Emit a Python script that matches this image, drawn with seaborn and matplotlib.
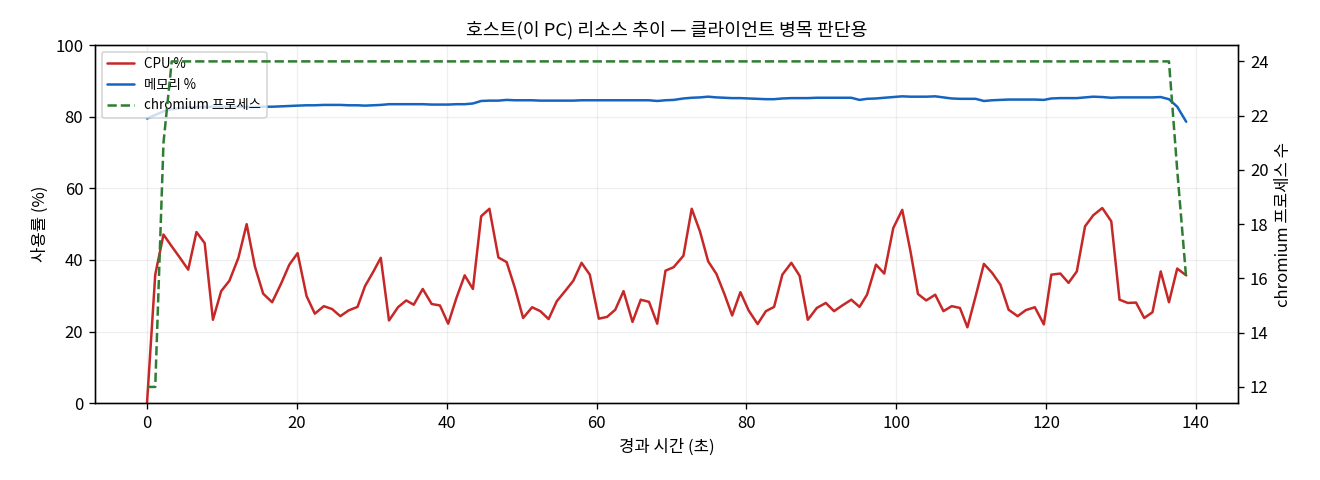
import matplotlib
matplotlib.use("Agg")
import pandas as pd
import matplotlib.pyplot as plt
import seaborn as sns

sns.set_style("ticks", rc={"axes.edgecolor": "black", "xtick.color": "black",
                           "ytick.color": "black", "text.color": "black",
                           "axes.labelcolor": "black"})
plt.rcParams['font.family'] = ['Noto Sans CJK KR', 'DejaVu Sans']
plt.rcParams['axes.unicode_minus'] = False

# 경과 시간 (초)
elapsed = [0.0, 1.1, 2.2, 3.3, 4.4, 5.5, 6.6, 7.7, 8.8, 9.9,
           11.0, 12.2, 13.3, 14.4, 15.5, 16.7, 17.9, 19.0, 20.1, 21.3,
           22.4, 23.6, 24.7, 25.8, 26.9, 28.1, 29.1, 30.2, 31.2, 32.3,
           33.5, 34.6, 35.6, 36.8, 38.0, 39.1, 40.2, 41.3, 42.4, 43.5,
           44.6, 45.7, 46.9, 48.0, 49.1, 50.2, 51.4, 52.5, 53.6, 54.7,
           55.8, 56.9, 58.0, 59.1, 60.3, 61.4, 62.5, 63.6, 64.8, 65.9,
           67.0, 68.1, 69.2, 70.3, 71.6, 72.7, 73.8, 74.9, 76.0, 77.1,
           78.1, 79.2, 80.3, 81.5, 82.6, 83.7, 84.8, 86.0, 87.1, 88.2,
           89.4, 90.6, 91.7, 92.8, 94.0, 95.1, 96.1, 97.3, 98.4, 99.6,
           100.8, 101.9, 102.9, 104.0, 105.2, 106.3, 107.4, 108.5, 109.5, 110.6,
           111.7, 112.8, 113.9, 115.0, 116.2, 117.3, 118.5, 119.7, 120.7, 121.9,
           123.0, 124.1, 125.2, 126.3, 127.5, 128.7, 129.8, 130.9, 132.0, 133.1,
           134.2, 135.3, 136.4, 137.5, 138.7]

cpu = [0.0, 35.9, 47.1, 43.8, 40.6, 37.3, 47.8, 44.7, 23.3, 31.3,
       34.2, 40.6, 50.0, 38.2, 30.6, 28.2, 33.4, 38.7, 41.9, 29.9,
       25.0, 27.1, 26.3, 24.3, 25.9, 26.9, 32.7, 36.7, 40.6, 23.1,
       26.8, 28.7, 27.5, 31.9, 27.7, 27.3, 22.2, 29.4, 35.7, 31.9,
       52.2, 54.3, 40.7, 39.4, 32.2, 23.8, 26.8, 25.7, 23.5, 28.5,
       31.3, 34.2, 39.2, 35.9, 23.6, 24.1, 26.1, 31.3, 22.7, 28.9,
       28.3, 22.2, 37.0, 38.0, 41.2, 54.3, 48.0, 39.6, 36.1, 30.3,
       24.5, 31.0, 25.9, 22.1, 25.7, 26.9, 35.9, 39.2, 35.6, 23.3,
       26.6, 28.0, 25.7, 27.3, 28.9, 26.9, 30.3, 38.7, 36.2, 48.9,
       54.0, 42.4, 30.5, 28.7, 30.3, 25.7, 27.1, 26.6, 21.2, 29.9,
       38.9, 36.4, 33.1, 26.1, 24.3, 26.0, 26.8, 22.0, 35.9, 36.2,
       33.6, 36.8, 49.4, 52.5, 54.5, 50.8, 28.9, 28.0, 28.1, 23.8,
       25.4, 36.8, 28.2, 37.6, 35.7]

memory = [79.5, 80.5, 81.5, 82.1, 82.4, 82.6, 82.7, 82.7, 82.8, 82.8,
          82.8, 82.8, 82.7, 82.7, 82.8, 82.8, 82.9, 83.0, 83.1, 83.2,
          83.2, 83.3, 83.3, 83.3, 83.2, 83.2, 83.1, 83.2, 83.3, 83.5,
          83.5, 83.5, 83.5, 83.5, 83.4, 83.4, 83.4, 83.5, 83.5, 83.7,
          84.4, 84.5, 84.5, 84.7, 84.6, 84.6, 84.6, 84.5, 84.5, 84.5,
          84.5, 84.5, 84.6, 84.6, 84.6, 84.6, 84.6, 84.6, 84.6, 84.6,
          84.6, 84.4, 84.6, 84.7, 85.1, 85.3, 85.4, 85.6, 85.4, 85.3,
          85.2, 85.2, 85.1, 85.0, 84.9, 84.9, 85.1, 85.2, 85.2, 85.2,
          85.3, 85.3, 85.3, 85.3, 85.3, 84.7, 85.0, 85.1, 85.3, 85.5,
          85.7, 85.6, 85.6, 85.6, 85.7, 85.4, 85.1, 85.0, 85.0, 85.0,
          84.4, 84.6, 84.7, 84.8, 84.8, 84.8, 84.8, 84.7, 85.1, 85.2,
          85.2, 85.2, 85.4, 85.6, 85.5, 85.3, 85.4, 85.4, 85.4, 85.4,
          85.4, 85.5, 84.9, 82.8, 78.6]

chromium = [12, 12, 21] + [24] * 120 + [20, 16]

df = pd.DataFrame({
    "elapsed": elapsed,
    "cpu": cpu,
    "memory": memory,
    "chromium": chromium,
})

fig, ax = plt.subplots(figsize=(11, 4), dpi=120)
fig.subplots_adjust(left=0.072, right=0.938, top=0.906, bottom=0.160)

sns.lineplot(data=df, x="elapsed", y="cpu", ax=ax, color="#c62828", lw=1.5, label="CPU %")
sns.lineplot(data=df, x="elapsed", y="memory", ax=ax, color="#1565c0", lw=1.5, label="메모리 %")
ax.set_ylim(0, 100)
ax.grid(alpha=0.3)
ax.set_xlabel("경과 시간 (초)")
ax.set_ylabel("사용률 (%)")

ax2 = ax.twinx()
sns.lineplot(data=df, x="elapsed", y="chromium", ax=ax2, color="#2e7d32", lw=1.5,
             linestyle="--", label="chromium 프로세스")
ax2.set_ylabel("chromium 프로세스 수")

# 두 축의 범례 합치기
h1, l1 = ax.get_legend_handles_labels()
h2, l2 = ax2.get_legend_handles_labels()
ax2.get_legend().remove()
ax.legend(h1 + h2, l1 + l2, loc="upper left", fontsize=8)

ax.set_title("호스트(이 PC) 리소스 추이 — 클라이언트 병목 판단용", fontsize=11)

fig.savefig("out.png")
